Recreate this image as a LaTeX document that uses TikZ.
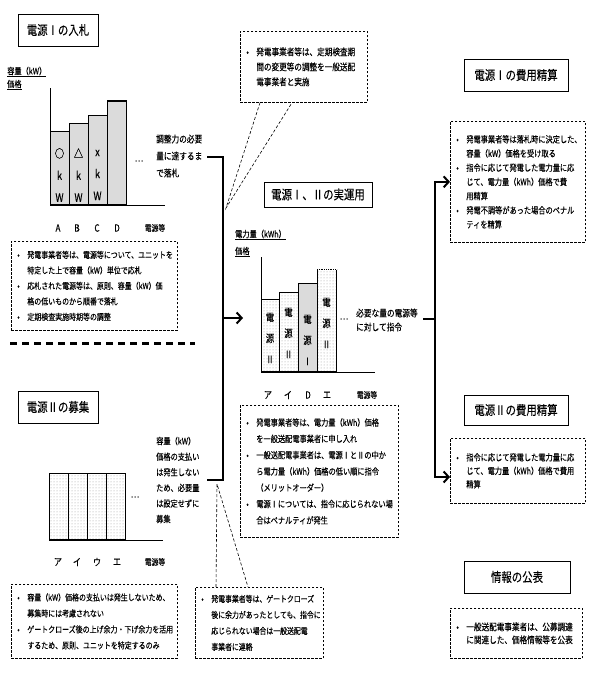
\documentclass[tikz,border=0pt]{standalone}
\usepackage{fontspec}
\setmainfont{Noto Sans CJK JP}[FakeStretch=0.8,FakeBold=0.12]
\usetikzlibrary{positioning}
\usetikzlibrary{arrows.meta}
\usetikzlibrary{patterns}
\newcommand{\notebul}{\makebox[10pt][l]{\textbullet}}
\newcommand{\noteind}{\hspace*{10pt}}
\newcommand{\notefont}[2]{\fontsize{#1}{#2}\selectfont}
\tikzset{
    titlebox/.style = {rectangle, draw=black, line width=0.8pt, inner sep=0pt, font=\notefont{13}{15}},
    notebox/.style = {rectangle, draw=black, line width=0.7pt, dash pattern=on 2.5pt off 1.5pt, inner xsep=6pt, inner ysep=0pt, align=left, anchor=north west},
    barg/.style = {rectangle, draw=black, line width=0.8pt, fill=gray!28, inner sep=0pt, anchor=south west},
    bard/.style = {rectangle, draw=black, line width=0.8pt, pattern=dots, pattern color=gray!80, inner sep=0pt, anchor=south west},
    bartxt/.style = {inner sep=0pt, align=center, font=\notefont{11.5}{22}},
    lbl/.style = {inner sep=0pt, align=left, anchor=west, font=\notefont{9.6}{17}},
    tick/.style = {inner sep=0pt, font=\notefont{10}{10}},
    axis/.style = {line width=0.8pt, draw=black},
    brack/.style = {line width=2pt, draw=black},
    edgen/.style = {-{Straight Barb[length=5pt,width=11pt,line width=2pt]}, line width=2pt},
    callout/.style = {draw=black, line width=0.6pt, dash pattern=on 3pt off 2pt},
    sepline/.style = {draw=black, line width=3pt, dash pattern=on 7pt off 5pt}
}
\begin{document}
\begin{tikzpicture}[x=1pt,y=-1pt]
\useasboundingbox (0,0) rectangle (595,677);
% titles
\node[titlebox, minimum width=80pt, minimum height=32pt] at (58,30) (t1) {電源Ⅰの入札};
\node[titlebox, minimum width=80pt, minimum height=32pt] at (58,407) (t2) {電源Ⅱの募集};
\node[titlebox, minimum width=108pt, minimum height=25pt] at (318,194.5) (t3) {電源Ⅰ、Ⅱの実運用};
\node[titlebox, minimum width=104pt, minimum height=32pt] at (516,75) (t4) {電源Ⅰの費用精算};
\node[titlebox, minimum width=104pt, minimum height=30pt] at (516,410) (t5) {電源Ⅱの費用精算};
\node[titlebox, minimum width=106pt, minimum height=32pt] at (517,577) (t6) {情報の公表};
%
% chart 1
\node[lbl, font=\notefont{9}{10}] at (7,72) (y1a) {\underline{容量（kW）}};
\node[lbl, font=\notefont{9}{10}] at (7,85) (y1b) {\underline{価格}};
\draw[axis] (50,88) -- (50,205) -- (165,205);
\node[barg, minimum width=19pt, minimum height=73pt] at (50,205) (b1a) {};
\node[barg, minimum width=19pt, minimum height=81pt] at (69,205) (b1b) {};
\node[barg, minimum width=19pt, minimum height=89pt] at (88,205) (b1c) {};
\node[barg, minimum width=19pt, minimum height=103pt] at (107,205) (b1d) {};
\draw[line width=1.6pt] (b1d.north west) -- (b1d.north east);
\node[bartxt] at (59.5,175) (v1a) {○\\k\\W};
\node[bartxt] at (78.5,175) (v1b) {△\\k\\W};
\node[bartxt] at (97.5,175) (v1c) {x\\k\\W};
\node[inner sep=0pt, font=\notefont{10}{10}] at (139,161) (d1) {…};
\node[lbl] at (156,156) (s1) {調整力の必要\\量に達するま\\で落札};
\node[tick] at (58,228) (k1a) {A};
\node[tick] at (77,228) (k1b) {B};
\node[tick] at (97,228) (k1c) {C};
\node[tick] at (117,228) (k1d) {D};
\node[tick, font=\notefont{8.5}{9}] at (155,228) (k1e) {電源等};
%
\node[notebox, minimum width=166pt, minimum height=89pt, text width=154pt, font=\notefont{8.7}{15.5}] at (11,241) (n1) {
\notebul 発電事業者等は、電源等について、ユニットを\\
\noteind 特定した上で容量（kW）単位で応札\\
\notebul 応札された電源等は、原則、容量（kW）価\\
\noteind 格の低いものから順番で落札\\
\notebul 定期検査実施時期等の調整};
\draw[sepline] (10,343) -- (195,343);
%
% chart 2
\node[bard, minimum width=19pt, minimum height=66pt] at (49,540) (b2a) {};
\node[bard, minimum width=19pt, minimum height=66pt] at (68,540) (b2b) {};
\node[bard, minimum width=19pt, minimum height=66pt] at (87,540) (b2c) {};
\node[bard, minimum width=19pt, minimum height=66pt] at (106,540) (b2d) {};
\draw[axis] (49,540) -- (163,540);
\node[inner sep=0pt, font=\notefont{10}{10}] at (135,497) (d2) {…};
\node[lbl, font=\notefont{9}{15.6}] at (156,480) (s2) {容量（kW）\\価格の支払い\\は発生しない\\ため、必要量\\は設定せずに\\募集};
\node[tick] at (58,562) (k2a) {ア};
\node[tick] at (77,562) (k2b) {イ};
\node[tick] at (97,562) (k2c) {ウ};
\node[tick] at (117,562) (k2d) {エ};
\node[tick, font=\notefont{8.5}{9}] at (155,562) (k2e) {電源等};
%
\node[notebox, minimum width=166pt, minimum height=74pt, text width=154pt, font=\notefont{8.7}{16}] at (11,584) (n4) {
\notebul 容量（kW）価格の支払いは発生しないため、\\
\noteind 募集時には考慮されない\\
\notebul ゲートクローズ後の上げ余力・下げ余力を活用\\
\noteind するため、原則、ユニットを特定するのみ};
%
% chart 3
\node[lbl, font=\notefont{9}{10}] at (235,235) (y3a) {\underline{電力量（kWh）}};
\node[lbl, font=\notefont{9}{10}] at (235,252) (y3b) {\underline{価格}};
\draw[axis] (261,257) -- (261,372) -- (375,372);
\node[bard, minimum width=18pt, minimum height=72pt] at (261,372) (b3a) {};
\node[bard, minimum width=19pt, minimum height=79pt] at (279,372) (b3b) {};
\node[barg, minimum width=19pt, minimum height=88pt] at (298,372) (b3c) {};
\node[bard, minimum width=19pt, minimum height=102pt] at (317,372) (b3d) {};
\draw[white, line width=1.2pt] (b3d.north west) -- (b3d.north east);
\draw[densely dotted, line width=0.8pt] (b3d.north west) -- (b3d.north east);
\node[bartxt, font=\notefont{10.5}{21}] at (270,338) (v3a) {電\\源\\Ⅱ};
\node[bartxt, font=\notefont{10.5}{21}] at (288.5,333) (v3b) {電\\源\\Ⅱ};
\node[bartxt, font=\notefont{10.5}{21}] at (307.5,340) (v3c) {電\\源\\Ⅰ};
\node[bartxt, font=\notefont{10.5}{21}] at (326.5,323) (v3d) {電\\源\\Ⅱ};
\node[inner sep=0pt, font=\notefont{10}{10}] at (344,319) (d3) {…};
\node[lbl, font=\notefont{9.6}{14}] at (356,320) (s3) {必要な量の電源等\\に対して指令};
\node[tick] at (268,395) (k3a) {ア};
\node[tick] at (288,395) (k3b) {イ};
\node[tick] at (308,395) (k3c) {D};
\node[tick] at (327,395) (k3d) {エ};
\node[tick, font=\notefont{8.5}{9}] at (367,395) (k3e) {電源等};
%
\node[notebox, minimum width=127pt, minimum height=71pt, text width=115pt, font=\notefont{9.5}{15}] at (240,31) (n2) {
\notebul 発電事業者等は、定期検査期\\
\noteind 間の変更等の調整を一般送配\\
\noteind 電事業者と実施};
\node[notebox, minimum width=158pt, minimum height=132pt, text width=146pt, font=\notefont{9}{16.3}] at (240,405) (n3) {
\notebul 発電事業者等は、電力量（kWh）価格\\
\noteind を一般送配電事業者に申し入れ\\
\notebul 一般送配電事業者は、電源ⅠとⅡの中か\\
\noteind ら電力量（kWh）価格の低い順に指令\\
\noteind （メリットオーダー）\\
\notebul 電源Ⅰについては、指令に応じられない場\\
\noteind 合はペナルティが発生};
\node[notebox, minimum width=128pt, minimum height=71pt, text width=116pt, font=\notefont{8.6}{16}] at (195,587) (n5) {
\notebul 発電事業者等は、ゲートクローズ\\
\noteind 後に余力があったとしても、指令に\\
\noteind 応じられない場合は一般送配電\\
\noteind 事業者に連絡};
%
% right notes
\node[notebox, minimum width=135pt, minimum height=121pt, text width=123pt, font=\notefont{9}{14.2}] at (450,121) (n6) {
\notebul 発電事業者等は落札時に決定した、\\
\noteind 容量（kW）価格を受け取る\\
\notebul 指令に応じて発電した電力量に応\\
\noteind じて、電力量（kWh）価格で費\\
\noteind 用精算\\
\notebul 発電不調等があった場合のペナル\\
\noteind ティを精算};
\node[notebox, minimum width=135pt, minimum height=65pt, text width=123pt, font=\notefont{9}{13.5}] at (450,438) (n7) {
\notebul 指令に応じて発電した電力量に応\\
\noteind じて、電力量（kWh）価格で費用\\
\noteind 精算};
\node[notebox, minimum width=132pt, minimum height=50pt, text width=120pt, font=\notefont{9.5}{13}] at (450,608) (n8) {
\notebul 一般送配電事業者は、公募調達\\
\noteind に関連した、価格情報等を公表};
%
% brackets and arrows
\coordinate (bt1) at (207,157);
\coordinate (bt2) at (207,480);
\coordinate (bm) at (223,318);
\coordinate (am) at (243,318);
\draw[brack] (bt1) -| (bm) |- (bt2);
\draw[edgen] (bm) -- (am);
\coordinate (rs) at (423,319);
\coordinate (rm) at (435,319);
\coordinate (rb) at (450,477);
\draw[brack] (rs) -- (rm);
\draw[edgen] (rm) |- (n6.west);
\draw[edgen] (rm) |- (rb);
%
% callouts
\coordinate (ca) at (226,208);
\coordinate (cb) at (217,484);
\draw[callout] ([xshift=20pt]n2.south west) -- (ca) -- ([xshift=52pt]n2.south west);
\draw[callout] ([xshift=21pt]n5.north west) -- (cb) -- ([xshift=53pt]n5.north west);
\end{tikzpicture}
\end{document}
